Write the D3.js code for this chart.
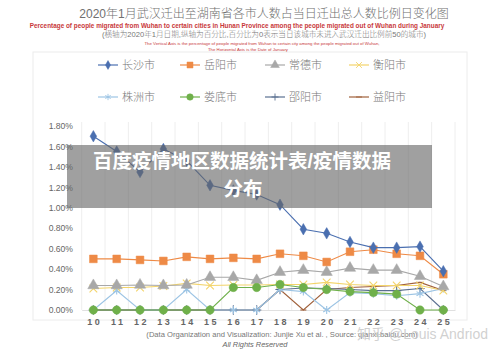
<!DOCTYPE html>
<html>
<head>
<meta charset="utf-8">
<script src="https://cdn.jsdelivr.net/npm/d3@7"></script>
<style>
  body { margin: 0; background: #fff; }
  text { font-family: "Liberation Sans", "Noto Sans CJK SC", sans-serif; }
</style>
</head>
<body>
<script>
// ---- data (percent values) ----
var dates = ["10","11","12","13","14","15","16","17","18","19","20","21","22","23","24","25"];
var cityNames = ["长沙市","岳阳市","常德市","衡阳市","株洲市","娄底市","邵阳市","益阳市"];
var changsha = [1.70,1.55,1.35,1.575,1.46,1.22,1.17,1.13,1.03,0.79,0.75,0.665,0.61,0.61,0.62,0.38];
var yueyang  = [0.50,0.50,0.49,0.48,0.52,0.50,0.51,0.50,0.55,0.53,0.47,0.57,0.59,0.55,0.53,0.35];
var changde  = [0.24,0.24,0.245,0.24,0.245,0.32,0.32,0.29,0.37,0.39,0.37,0.41,0.39,0.39,0.33,0.23];
var hengyang = [0.21,0.22,0.22,0.235,0.26,0.24,0.245,0.245,0.25,0.25,0.27,0.25,0.24,0.24,0.24,0.19];
var zhuzhou  = [0,0.19,0,0,0.20,0,0,0,0.20,0.18,0,0.17,0.16,0.14,0.16,0.21];
var loudi    = [0,0,0,0,0,0,0.22,0.22,0.25,0.22,0.20,0.18,0.17,0.155,0,0];
var shaoyang = [0,0,0,0,0,0,0,0,0.20,0.215,0.21,0.20,0.19,0.19,0.21,0];
var yiyang   = [0,0,0,0,0,0,0,0,0.20,0,0.20,0.22,0.23,0.24,0.27,0.19];
var yTicks = [0,0.2,0.4,0.6,0.8,1.0,1.2,1.4,1.6,1.8];

var allSeries = [changsha, yueyang, changde, hengyang, zhuzhou, loudi, shaoyang, yiyang];
var colors = ["#4a6fb0","#ee8a46","#a8a8a8","#f3d46a","#9cc4e4","#6fb04a","#5a6f90","#a0603a"];
var times = d3.symbolTimes || d3.symbolX;
var shapes = [d3.symbolDiamond, d3.symbolSquare, d3.symbolTriangle, times, d3.symbolAsterisk, d3.symbolCircle, d3.symbolPlus, "dash"];
var sizes = [38, 60, 55, 40, 45, 55, 30, 20];
var filled = [true, true, true, false, false, true, false, false];

var W = 500, H = 353;
var svg = d3.select("body").append("svg").attr("width", W).attr("height", H);

// outer frame
svg.append("rect").attr("x", 33).attr("y", 52).attr("width", 434).attr("height", 268)
  .attr("fill", "none").attr("stroke", "#ececec").attr("stroke-width", 1);

// ---- titles ----
svg.append("text").attr("x", 264).attr("y", 18).attr("text-anchor", "middle")
  .attr("font-family", "Noto Sans CJK SC").attr("font-size", 12).attr("font-weight", 300).attr("fill", "#707070")
  .text("2020年1月武汉迁出至湖南省各市人数占当日迁出总人数比例日变化图");
svg.append("text").attr("x", 237).attr("y", 27.5).attr("text-anchor", "middle")
  .attr("font-size", 6.4).attr("font-weight", "bold").attr("fill", "#c8383a")
  .text("Percentage of people migrated from Wuhan to certain cities in Hunan Province among the people migrated out of Wuhan during January");
svg.append("text").attr("x", 264).attr("y", 37).attr("text-anchor", "middle")
  .attr("font-family", "Noto Sans CJK SC").attr("font-size", 7.6).attr("font-weight", 300).attr("fill", "#777")
  .text("(横轴为2020年1月日期,纵轴为百分比,百分比为0表示当日该城市未进入武汉迁出比例前50的城市)");
svg.append("text").attr("x", 262).attr("y", 44.5).attr("text-anchor", "middle")
  .attr("font-size", 4.3).attr("fill", "#c8383a")
  .text("The Vertical Axis is the percentage of people migrated from Wuhan to certain city  among the people migrated out of Wuhan,");
svg.append("text").attr("x", 248).attr("y", 50.5).attr("text-anchor", "middle")
  .attr("font-size", 4.3).attr("fill", "#c8383a")
  .text("The Horizontal Axis is the Date of January");

// ---- scales ----
var x = d3.scalePoint().domain(dates).range([81.7, 455]).padding(0.5);
var y = d3.scaleLinear().domain([0, 1.8]).range([310, 126]);

// vertical gridlines at category boundaries
var step = x.step();
var grid = d3.range(dates.length + 1).map(function (i) { return x(dates[0]) - step / 2 + i * step; });
svg.append("g").selectAll("line").data(grid).enter().append("line")
  .attr("x1", function (d) { return d; }).attr("x2", function (d) { return d; })
  .attr("y1", y(1.8) - 4).attr("y2", y(0))
  .attr("stroke", "#eeeeee").attr("stroke-width", 1);

// Y axis
var yAxis = svg.append("g").attr("transform", "translate(73,0)")
  .call(d3.axisLeft(y).tickValues(yTicks).tickSize(0).tickPadding(0)
    .tickFormat(function (d) { return d.toFixed(2) + "%"; }));
yAxis.select(".domain").remove();
yAxis.selectAll("text").attr("font-size", 8.6).attr("fill", "#666").attr("font-family", "Liberation Sans");

// X axis
var xAxis = svg.append("g").attr("transform", "translate(0," + y(0) + ")")
  .call(d3.axisBottom(x).tickSize(0).tickPadding(9));
xAxis.select(".domain").attr("stroke", "#e0e0e0");
xAxis.selectAll("text").attr("font-size", 9).attr("fill", "#666").attr("font-weight", "bold")
  .attr("font-family", "DejaVu Serif").attr("letter-spacing", 2.5).attr("dx", 1);

function markerPath(i, scale) {
  if (shapes[i] === "dash") return "M-3,0H3";
  return d3.symbol().type(shapes[i]).size(sizes[i] * (scale || 1))();
}

// ---- series lines and markers ----
var line = d3.line().x(function (d, j) { return x(dates[j]); }).y(function (d) { return y(d); });
var order = [7, 6, 4, 3, 2, 5, 1, 0];
order.forEach(function (i) {
  var g = svg.append("g");
  g.append("path").datum(allSeries[i]).attr("d", line)
    .attr("fill", "none").attr("stroke", colors[i]).attr("stroke-width", 1.1);
  g.selectAll("path.m").data(allSeries[i]).enter().append("path").attr("class", "m")
    .attr("d", markerPath(i))
    .attr("transform", function (d, j) { return "translate(" + x(dates[j]) + "," + y(d) + ")"; })
    .attr("fill", filled[i] ? colors[i] : "none")
    .attr("stroke", colors[i]).attr("stroke-width", filled[i] ? 0.5 : 1.1);
});

// ---- legend ----
var legX = [98, 180, 265, 349];
var legY = [65, 97];
cityNames.forEach(function (name, i) {
  var lx = legX[i % 4], ly = legY[Math.floor(i / 4)];
  var g = svg.append("g").attr("transform", "translate(" + lx + "," + ly + ")");
  g.append("line").attr("x1", 0).attr("x2", 20).attr("y1", 0).attr("y2", 0)
    .attr("stroke", colors[i]).attr("stroke-width", 1.2);
  g.append("path").attr("d", markerPath(i, 0.6)).attr("transform", "translate(10,0)")
    .attr("fill", filled[i] ? colors[i] : "none")
    .attr("stroke", colors[i]).attr("stroke-width", filled[i] ? 0.5 : 0.9);
  g.append("text").attr("x", 24).attr("y", 4).attr("font-family", "Noto Sans CJK SC")
    .attr("font-size", 11).attr("font-weight", 300).attr("fill", "#777").text(name);
});

// ---- footer ----
svg.append("text").attr("x", 282).attr("y", 337).attr("text-anchor", "middle")
  .attr("font-family", "Liberation Serif").attr("font-size", 7.6).attr("fill", "#777")
  .text("(Data Organization and Visualization: Junjie Xu et al. , Source: qianxi.baidu.com)");
svg.append("text").attr("x", 255).attr("y", 347).attr("text-anchor", "middle")
  .attr("font-size", 7.4).attr("font-style", "italic").attr("fill", "#666")
  .text("All Rights Reserved");

// watermark
svg.append("text").attr("x", 488).attr("y", 339).attr("text-anchor", "end")
  .attr("font-family", "Noto Sans CJK SC").attr("font-size", 14).attr("fill", "#c8c8c8").attr("fill-opacity", 0.85)
  .text("知乎 @Louis Andriod");

// ---- overlay banner ----
svg.append("rect").attr("x", 67).attr("y", 145).attr("width", 365).attr("height", 63)
  .attr("fill", "#666").attr("fill-opacity", 0.62);
svg.append("text").attr("x", 242).attr("y", 168).attr("text-anchor", "middle")
  .attr("font-family", "Noto Sans CJK SC").attr("font-weight", "bold").attr("font-size", 19.5).attr("fill", "#fff")
  .text("百度疫情地区数据统计表/疫情数据");
svg.append("text").attr("x", 243).attr("y", 196).attr("text-anchor", "middle")
  .attr("font-family", "Noto Sans CJK SC").attr("font-weight", "bold").attr("font-size", 19.5).attr("fill", "#fff")
  .text("分布");
</script>
</body>
</html>
